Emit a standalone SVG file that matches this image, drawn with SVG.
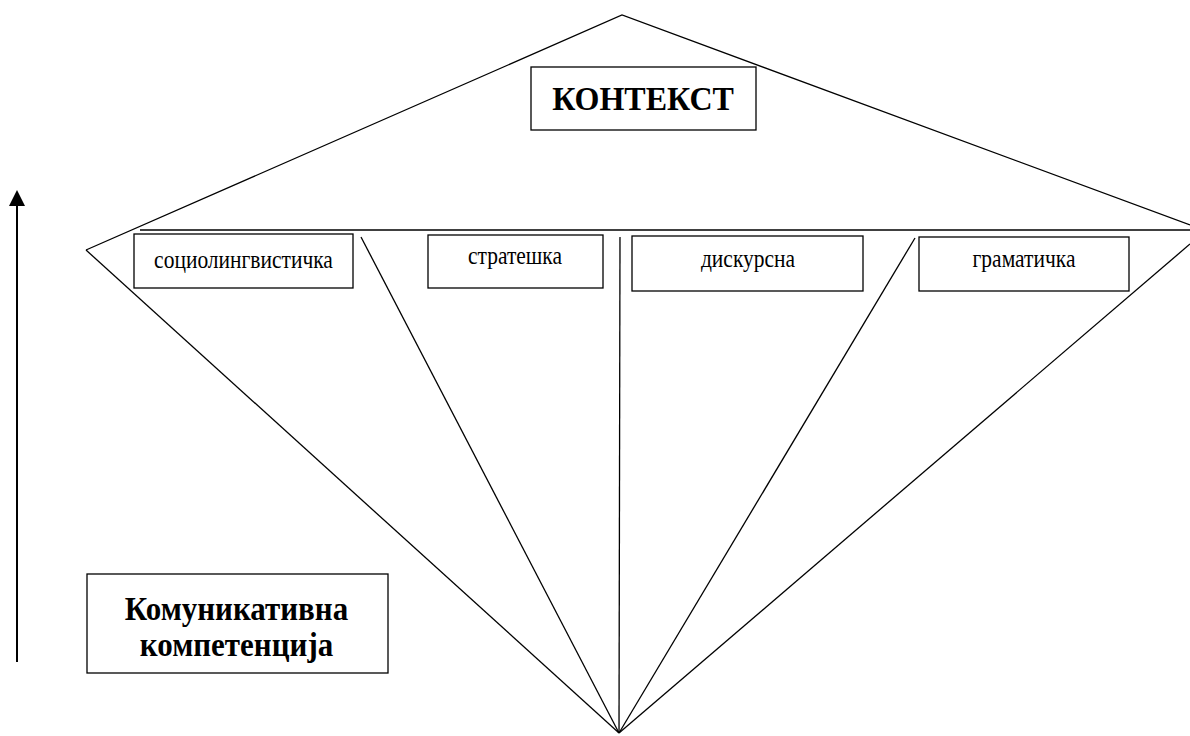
<svg xmlns="http://www.w3.org/2000/svg" width="1190" height="736" viewBox="0 0 1190 736">
<defs>
<style>
.ln{stroke:#000;stroke-width:1.3;fill:none}
.bx{fill:#fff;stroke:#000;stroke-width:1.3}
.lb{font-family:"Liberation Serif","Times New Roman",serif;font-size:21.5px;fill:#000;text-anchor:middle}
.bd{font-family:"Liberation Serif","Times New Roman",serif;font-weight:bold;fill:#000;text-anchor:middle}
</style>
</defs>
<rect width="1190" height="736" fill="#fff"/>
<g id="connectors">
<polyline class="ln" points="86,250 622,15 1190,225"/>
<line class="ln" x1="140" y1="230" x2="1190" y2="230"/>
<line class="ln" x1="86" y1="250" x2="619" y2="733"/>
<line class="ln" x1="361" y1="237" x2="619" y2="733"/>
<line class="ln" x1="620" y1="237" x2="619" y2="733"/>
<line class="ln" x1="915" y1="238" x2="619" y2="733"/>
<line class="ln" x1="1190" y1="244" x2="619" y2="733"/>
<line x1="17" y1="662" x2="17" y2="205" stroke="#000" stroke-width="2"/>
<path d="M9,206 L17,190 L25,206 Z" fill="#000"/>
</g>
<g id="kontekst">
<rect class="bx" x="531" y="67" width="225" height="63"/>
<text class="bd" font-size="32" transform="translate(643,110) scale(1,1.08)">КОНТЕКСТ</text>
</g>
<g id="sociolingvisticka">
<rect class="bx" x="134" y="234" width="219" height="54"/>
<text class="lb" transform="translate(243.5,268) scale(1,1.15)">социолингвистичка</text>
</g>
<g id="strateska">
<rect class="bx" x="428" y="235" width="175" height="53"/>
<text class="lb" transform="translate(515,264) scale(1,1.15)">стратешка</text>
</g>
<g id="diskursna">
<rect class="bx" x="632" y="236" width="231" height="55"/>
<text class="lb" transform="translate(748,267) scale(1,1.15)">дискурсна</text>
</g>
<g id="gramaticka">
<rect class="bx" x="919" y="237" width="210" height="54"/>
<text class="lb" transform="translate(1024,267) scale(1,1.15)">граматичка</text>
</g>
<g id="komunikativna">
<rect class="bx" x="87" y="574" width="301" height="99"/>
<text class="bd" font-size="31" transform="translate(236.5,620) scale(1,1.1)">Комуникативна</text>
<text class="bd" font-size="31" transform="translate(236.5,656) scale(1,1.1)">компетенција</text>
</g>
</svg>
